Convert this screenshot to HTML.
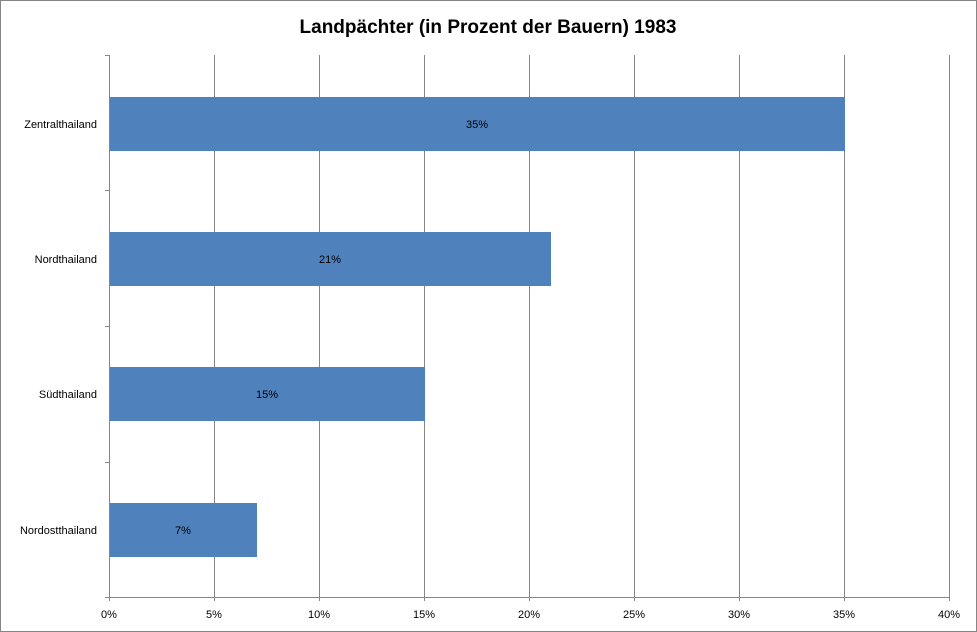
<!DOCTYPE html>
<html><head><meta charset="utf-8"><style>body{margin:0;background:#fff}svg{display:block}</style></head><body>
<svg width="977" height="632" xmlns="http://www.w3.org/2000/svg" font-family="'Liberation Sans','DejaVu Sans',sans-serif">
<rect x="0.5" y="0.5" width="976" height="631" fill="#fff" stroke="#868686"/>
<text x="488" y="33" text-anchor="middle" font-size="19" font-weight="bold" fill="#000">Landpächter (in Prozent der Bauern) 1983</text>
<g stroke="#868686" stroke-width="1">
<line x1="214.5" y1="55" x2="214.5" y2="601"/>
<line x1="319.5" y1="55" x2="319.5" y2="601"/>
<line x1="424.5" y1="55" x2="424.5" y2="601"/>
<line x1="529.5" y1="55" x2="529.5" y2="601"/>
<line x1="634.5" y1="55" x2="634.5" y2="601"/>
<line x1="739.5" y1="55" x2="739.5" y2="601"/>
<line x1="844.5" y1="55" x2="844.5" y2="601"/>
<line x1="949.5" y1="55" x2="949.5" y2="601"/>
<line x1="109.5" y1="55" x2="109.5" y2="601"/>
<line x1="105" y1="597.5" x2="950" y2="597.5"/>
<line x1="105" y1="55.5" x2="109" y2="55.5"/>
<line x1="105" y1="190.5" x2="109" y2="190.5"/>
<line x1="105" y1="326.5" x2="109" y2="326.5"/>
<line x1="105" y1="462.5" x2="109" y2="462.5"/>
</g>
<g fill="#4f81bd">
<rect x="110" y="97" width="735" height="54"/>
<rect x="110" y="232" width="441" height="54"/>
<rect x="110" y="367" width="315" height="54"/>
<rect x="110" y="503" width="147" height="54"/>
</g>
<g font-size="11" fill="#000" text-anchor="middle">
<text x="477" y="128">35%</text>
<text x="330" y="263">21%</text>
<text x="267" y="398">15%</text>
<text x="183" y="534">7%</text>
</g>
<g font-size="11" fill="#000" text-anchor="end">
<text x="97" y="128">Zentralthailand</text>
<text x="97" y="263">Nordthailand</text>
<text x="97" y="398">Südthailand</text>
<text x="97" y="534">Nordostthailand</text>
</g>
<g font-size="11" fill="#000" text-anchor="middle">
<text x="109" y="618">0%</text>
<text x="214" y="618">5%</text>
<text x="319" y="618">10%</text>
<text x="424" y="618">15%</text>
<text x="529" y="618">20%</text>
<text x="634" y="618">25%</text>
<text x="739" y="618">30%</text>
<text x="844" y="618">35%</text>
<text x="949" y="618">40%</text>
</g>
</svg>
</body></html>
